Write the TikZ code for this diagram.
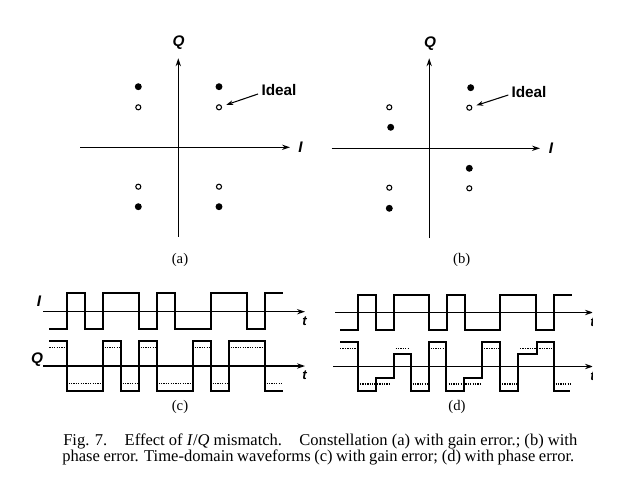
\documentclass[tikz,border=0pt]{standalone}
\usepackage{fontspec}
\setmainfont{Liberation Serif}
\setsansfont{Liberation Sans}
\usetikzlibrary{arrows.meta}
\begin{document}
\begin{tikzpicture}[x=0.75pt,y=-0.75pt,
  axis/.style={line width=0.9pt,-{Stealth[length=6pt,width=4pt]}},
  wave/.style={line width=1.5pt,line join=miter},
  idealw/.style={line width=1pt,dash pattern=on 1pt off 0.8pt},
  fdot/.style={circle,fill=black,inner sep=0pt,minimum size=5.2pt},
  odot/.style={circle,draw=black,line width=0.8pt,inner sep=0pt,minimum size=3.8pt},
  axlab/.style={font=\sffamily\bfseries\itshape\fontsize{11.5}{11.5}\selectfont,inner sep=0pt},
  tlab/.style={font=\sffamily\bfseries\itshape\fontsize{10}{10}\selectfont,inner sep=0pt},
  idlab/.style={font=\sffamily\bfseries\fontsize{11.5}{11.5}\selectfont,inner sep=0pt},
  sublab/.style={font=\fontsize{11}{11}\selectfont,inner sep=0pt},
  caplab/.style={font=\fontsize{12.4}{12.4}\selectfont,inner sep=0pt,anchor=base west},
  pointer/.style={line width=0.8pt,-{Stealth[length=5pt,width=3.5pt]}},
]
\fill[white] (0,0) rectangle (620,495);
\useasboundingbox (0,0) rectangle (620,495);

% ---------------- (a) ----------------
\coordinate (aQs) at (178.3,236.7);
\coordinate (aQe) at (178.3,58.3);
\coordinate (aIs) at (80,147.3);
\coordinate (aIe) at (290,147.3);
\draw[axis] (aQs) -- (aQe);
\draw[axis] (aIs) -- (aIe);
\node[axlab] (aQ) at (178.5,43) {Q};
\node[axlab] (aI) at (300.5,147.5) {I};
\node[fdot] (af1) at (138.3,86.7) {};
\node[fdot] (af2) at (219,86.7) {};
\node[fdot] (af3) at (138.3,206.7) {};
\node[fdot] (af4) at (219,206.7) {};
\node[odot] (ao1) at (138.3,107.3) {};
\node[odot] (ao2) at (219,107.3) {};
\node[odot] (ao3) at (138.3,186.7) {};
\node[odot] (ao4) at (219,186.7) {};
\node[idlab] (aId) at (279,90) {Ideal};
\coordinate (aIds) at (258,94);
\draw[pointer,shorten >=3.6pt] (aIds) -- (ao2);
\node[sublab] (la) at (180,260) {(a)};

% ---------------- (b) ----------------
\coordinate (bQs) at (429.2,238);
\coordinate (bQe) at (429.2,58.3);
\coordinate (bIs) at (331.7,148.3);
\coordinate (bIe) at (540,148.3);
\draw[axis] (bQs) -- (bQe);
\draw[axis] (bIs) -- (bIe);
\node[axlab] (bQ) at (430,44) {Q};
\node[axlab] (bI) at (551,148.5) {I};
\node[odot] (bo1) at (389.3,107.3) {};
\node[odot] (bo2) at (469.3,107.7) {};
\node[odot] (bo3) at (389.3,187.7) {};
\node[odot] (bo4) at (469.3,188.3) {};
\node[fdot] (bf1) at (470.7,87.7) {};
\node[fdot] (bf2) at (390.7,127.3) {};
\node[fdot] (bf3) at (469.3,168.3) {};
\node[fdot] (bf4) at (389.3,208.3) {};
\node[idlab] (bId) at (529,91.7) {Ideal};
\coordinate (bIds) at (508.3,95);
\draw[pointer,shorten >=3.3pt] (bIds) -- (bo2);
\node[sublab] (lb) at (461.7,260) {(b)};

% ---------------- (c) ----------------
\coordinate (cIs) at (43.3,311.7);
\coordinate (cIe) at (305,311.7);
\coordinate (cQs) at (43.3,366);
\coordinate (cQe) at (305,366);
\draw[axis] (cIs) -- (cIe);
\draw[axis] (cQs) -- (cQe);
\node[axlab] (cI) at (39,301) {I};
\node[axlab] (cQ) at (37,360) {Q};
\node[tlab] (ct1) at (304.5,321) {t};
\node[tlab] (ct2) at (304.5,375.5) {t};
% I waveform
\draw[wave] (49.3,329) -- (66.7,329) -- (66.7,292.5) -- (84.7,292.5) -- (84.7,329)
  -- (102.7,329) -- (102.7,292.5) -- (138.7,292.5) -- (138.7,329) -- (156.7,329)
  -- (156.7,292.5) -- (174.7,292.5) -- (174.7,329) -- (210.7,329) -- (210.7,292.5)
  -- (246.7,292.5) -- (246.7,329) -- (264.7,329) -- (264.7,292.5) -- (282.7,292.5);
% Q waveform (gain error)
\draw[wave] (49.3,341) -- (66.7,341) -- (66.7,391) -- (102.7,391) -- (102.7,341)
  -- (120.7,341) -- (120.7,391) -- (138.7,391) -- (138.7,341) -- (156.7,341)
  -- (156.7,391) -- (192.7,391) -- (192.7,341) -- (210.7,341) -- (210.7,391)
  -- (228.7,391) -- (228.7,341) -- (264.7,341) -- (264.7,391) -- (282.7,391);
% ideal Q (dotted)
\draw[idealw] (49.3,347.7) -- (65,347.7);
\draw[idealw] (68.5,383.3) -- (101,383.3);
\draw[idealw] (104.5,347.7) -- (119,347.7);
\draw[idealw] (122.5,383.3) -- (137,383.3);
\draw[idealw] (140.5,347.7) -- (155,347.7);
\draw[idealw] (158.5,383.3) -- (191,383.3);
\draw[idealw] (194.5,347.7) -- (209,347.7);
\draw[idealw] (212.5,383.3) -- (227,383.3);
\draw[idealw] (230.5,347.7) -- (263,347.7);
\draw[idealw] (266.5,383.3) -- (282.7,383.3);
\node[sublab] (lc) at (180,406.7) {(c)};

% ---------------- (d) ----------------
\begin{scope}
\clip (0,0) rectangle (592,495);
\coordinate (dIs) at (335,312.5);
\coordinate (dIe) at (593,312.5);
\coordinate (dQs) at (333,366.5);
\coordinate (dQe) at (593,366.5);
\draw[axis] (dIs) -- (dIe);
\draw[axis] (dQs) -- (dQe);
\node[tlab] (dt1) at (592.5,322) {t};
\node[tlab] (dt2) at (592.5,376) {t};
\end{scope}
% I waveform
\draw[wave] (340,330) -- (358.3,330) -- (358.3,294.5) -- (376,294.5) -- (376,330)
  -- (393.8,330) -- (393.8,294.5) -- (429.3,294.5) -- (429.3,330) -- (447,330)
  -- (447,294.5) -- (464.8,294.5) -- (464.8,330) -- (500.3,330) -- (500.3,294.5)
  -- (535.8,294.5) -- (535.8,330) -- (553.5,330) -- (553.5,294.5) -- (571.5,294.5);
% Q waveform (phase error)
\draw[wave] (340,342.3) -- (358,342.3) -- (358,390.5) -- (375.5,390.5) -- (375.5,378.2)
  -- (393.5,378.2) -- (393.5,354.2) -- (410.5,354.2) -- (410.5,390.5) -- (428.5,390.5)
  -- (428.5,342.3) -- (446.3,342.3) -- (446.3,390.5) -- (464,390.5) -- (464,378.2)
  -- (481.8,378.2) -- (481.8,342.3) -- (500,342.3) -- (500,390.5) -- (518.3,390.5)
  -- (518.3,354.2) -- (536.5,354.2) -- (536.5,342.3) -- (553.5,342.3) -- (553.5,390.5)
  -- (570,390.5);
% ideal Q (dotted)
\draw[idealw] (340,348.5) -- (356,348.5);
\draw[idealw] (360,384) -- (391,384);
\draw[idealw] (395.5,348.5) -- (409,348.5);
\draw[idealw] (412.5,384) -- (427,384);
\draw[idealw] (430.5,348.5) -- (445,348.5);
\draw[idealw] (448.5,384) -- (480,384);
\draw[idealw] (484,348.5) -- (498.5,348.5);
\draw[idealw] (502,384) -- (517,384);
\draw[idealw] (520,348.5) -- (552,348.5);
\draw[idealw] (555.5,384) -- (570,384);
\node[sublab] (ld) at (457,406.7) {(d)};

% ---------------- caption ----------------
\node[caplab] (cap1) at (63,445.7) {\makebox[385.5pt][s]{Fig. 7.\hspace{13pt}Effect of \textit{I}/\textit{Q} mismatch.\hspace{13pt}Constellation (a) with gain error.; (b) with}};
\node[caplab] (cap2) at (62,461) {\makebox[384pt][s]{phase error. Time-domain waveforms (c) with gain error; (d) with phase error.}};
\end{tikzpicture}
\end{document}
